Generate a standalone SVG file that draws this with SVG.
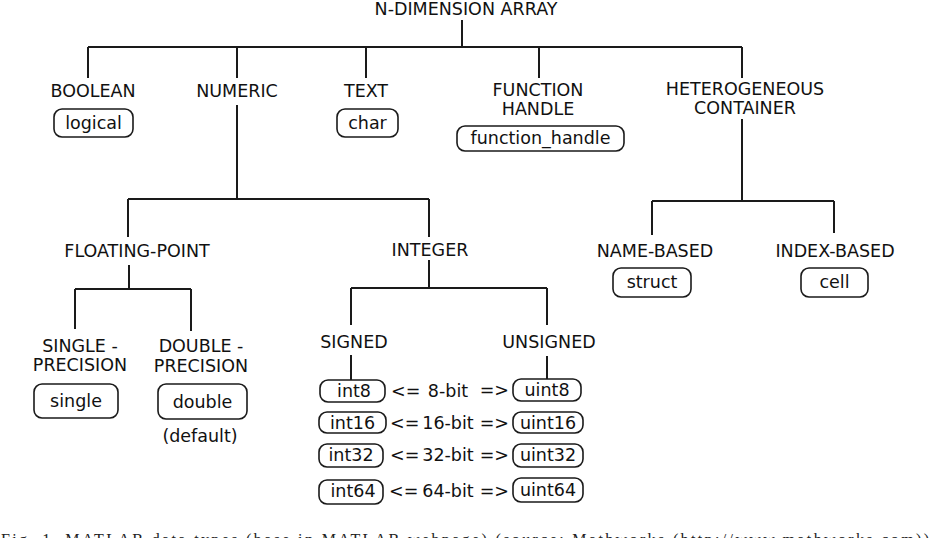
<svg xmlns="http://www.w3.org/2000/svg" width="932" height="538" viewBox="0 0 932 538">
<style>
.lbl{font-family:"DejaVu Sans","Liberation Sans",sans-serif;font-size:17.5px;fill:#111;text-anchor:middle}
.bt{font-family:"DejaVu Sans","Liberation Sans",sans-serif;font-size:17.5px;fill:#111;text-anchor:middle}
.mid{font-family:"DejaVu Sans","Liberation Sans",sans-serif;font-size:17.5px;fill:#111}
.box{fill:#fff;stroke:#1a1a1a;stroke-width:1.6}
.con{fill:none;stroke:#1a1a1a;stroke-width:2}
.cap{font-family:"Liberation Serif",serif;font-size:16px;fill:#222}
</style>
<rect width="932" height="538" fill="#fff"/>
<g id="connectors" class="con">
<path d="M462,20V47M88,47H742M88,47V78M237,47V78M366,47V78M539,47V78M742,47V78"/>
<path d="M237,105V199M128,199H429M128,199V237M429,199V237"/>
<path d="M742,119V201M652,201H834M652,201V235M834,201V233"/>
<path d="M129,265V289M75,289H191M75,289V329M191,289V331"/>
<path d="M429,260V288M351,288H547M351,288V325M547,288V325"/>
<path d="M351,355V380M547,356V379"/>
</g>
<g id="root"><text class="lbl" x="466" y="15">N-DIMENSION ARRAY</text></g>
<g id="boolean"><text class="lbl" x="93" y="97">BOOLEAN</text>
<rect class="box" x="54" y="109" width="79" height="28" rx="8"/><text class="bt" x="93.5" y="129">logical</text></g>
<g id="numeric"><text class="lbl" x="237" y="97">NUMERIC</text></g>
<g id="text"><text class="lbl" x="366" y="97">TEXT</text>
<rect class="box" x="337" y="109" width="61" height="28" rx="8"/><text class="bt" x="367.5" y="129">char</text></g>
<g id="function-handle"><text class="lbl" x="538" y="96">FUNCTION</text><text class="lbl" x="538" y="115">HANDLE</text>
<rect class="box" x="457" y="126" width="167" height="25" rx="8"/><text class="bt" x="540.5" y="144">function_handle</text></g>
<g id="heterogeneous"><text class="lbl" x="745" y="95">HETEROGENEOUS</text><text class="lbl" x="745" y="114">CONTAINER</text></g>
<g id="name-based"><text class="lbl" x="655" y="257">NAME-BASED</text>
<rect class="box" x="613" y="268" width="78" height="29" rx="8"/><text class="bt" x="652" y="288">struct</text></g>
<g id="index-based"><text class="lbl" x="835" y="257">INDEX-BASED</text>
<rect class="box" x="801" y="268" width="67" height="29" rx="8"/><text class="bt" x="834.5" y="288">cell</text></g>
<g id="floating-point"><text class="lbl" x="137" y="257">FLOATING-POINT</text></g>
<g id="integer"><text class="lbl" x="430" y="256">INTEGER</text></g>
<g id="single-precision"><text class="lbl" x="80" y="352">SINGLE -</text><text class="lbl" x="80" y="371">PRECISION</text>
<rect class="box" x="34" y="384" width="84" height="34" rx="8"/><text class="bt" x="76" y="407">single</text></g>
<g id="double-precision"><text class="lbl" x="201" y="352">DOUBLE -</text><text class="lbl" x="201" y="372">PRECISION</text>
<rect class="box" x="158" y="384" width="89" height="35" rx="8"/><text class="bt" x="202.5" y="408">double</text>
<text class="lbl" x="200" y="442">(default)</text></g>
<g id="signed"><text class="lbl" x="354" y="348">SIGNED</text></g>
<g id="unsigned"><text class="lbl" x="549" y="348">UNSIGNED</text></g>
<g id="int8"><rect class="box" x="320" y="380" width="65" height="22" rx="8"/><text class="bt" x="354" y="397">int8</text></g>
<g id="uint8"><rect class="box" x="513" y="379" width="68" height="22" rx="8"/><text class="bt" x="547" y="396">uint8</text></g>
<g id="int16"><rect class="box" x="319" y="412" width="67" height="21" rx="8"/><text class="bt" x="352.5" y="429">int16</text></g>
<g id="uint16"><rect class="box" x="513" y="412" width="70" height="21" rx="8"/><text class="bt" x="548" y="429">uint16</text></g>
<g id="int32"><rect class="box" x="319" y="444" width="64" height="23" rx="8"/><text class="bt" x="351" y="461">int32</text></g>
<g id="uint32"><rect class="box" x="513" y="444" width="70" height="23" rx="8"/><text class="bt" x="548" y="461">uint32</text></g>
<g id="int64"><rect class="box" x="319" y="480" width="64" height="24" rx="8"/><text class="bt" x="353" y="497">int64</text></g>
<g id="uint64"><rect class="box" x="513" y="478" width="70" height="24" rx="8"/><text class="bt" x="548" y="496">uint64</text></g>
<g id="bit-labels">
<text class="mid" x="391" y="397">&lt;=</text><text class="mid" x="448" y="397" text-anchor="middle">8-bit</text><text class="mid" x="509" y="396" text-anchor="end">=&gt;</text>
<text class="mid" x="390" y="429">&lt;=</text><text class="mid" x="448" y="429" text-anchor="middle">16-bit</text><text class="mid" x="509" y="429" text-anchor="end">=&gt;</text>
<text class="mid" x="390" y="461">&lt;=</text><text class="mid" x="448" y="461" text-anchor="middle">32-bit</text><text class="mid" x="509" y="461" text-anchor="end">=&gt;</text>
<text class="mid" x="389" y="497">&lt;=</text><text class="mid" x="448" y="497" text-anchor="middle">64-bit</text><text class="mid" x="509" y="497" text-anchor="end">=&gt;</text>
</g>
<g id="caption"><text class="cap" x="1" y="545" textLength="928" lengthAdjust="spacing">Fig. 1. MATLAB data types (base in MATLAB webpage) (source: Mathworks (http://www.mathworks.com))</text></g>
</svg>
